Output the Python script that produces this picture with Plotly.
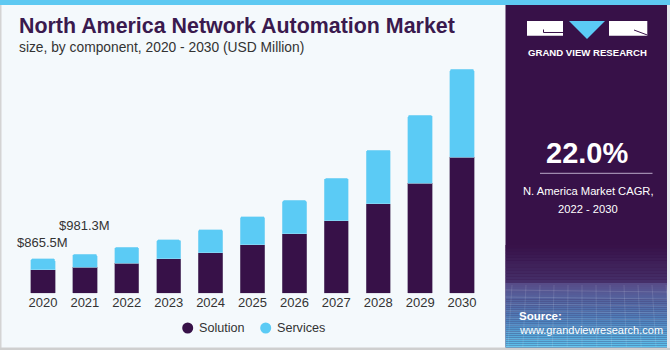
import plotly.graph_objects as go

# ---- data ----
years = ["2020", "2021", "2022", "2023", "2024", "2025", "2026", "2027", "2028", "2029", "2030"]
solution = [592, 655, 761, 862, 1021, 1222, 1499, 1827, 2255, 2777, 3432]
services = [273.5, 326.3, 396, 479, 580, 706, 842, 1068, 1353, 1706, 2210]
series_names = ["Solution", "Services"]
label_years = ["2020", "2021"]
label_texts = ["$865.5M", "$981.3M"]

W, H = 670, 350
PURPLE = "#371148"
BLUE = "#5bcbf5"
BG = "#f4f9fc"
FONT = "Liberation Sans, Arial, sans-serif"
LABEL_SHIFTS = [7, 19]


def px(x):
    return x / W


def py(y):
    return 1 - y / H


fig = go.Figure()
fig.add_trace(go.Bar(x=years, y=solution, name=series_names[0],
                     marker=dict(color=PURPLE, line=dict(color="#7a6a8a", width=0.6)),
                     width=0.58, showlegend=False))
fig.add_trace(go.Bar(x=years, y=services, name=series_names[1],
                     marker=dict(color=BLUE, line=dict(color="#9adcf5", width=0.6)),
                     width=0.58, showlegend=False))

totals = {y: s + v for y, s, v in zip(years, solution, services)}
annotations = []
for (yr, txt), shift in zip(zip(label_years, label_texts), LABEL_SHIFTS):
    annotations.append(dict(x=years.index(yr), y=totals[yr], xref="x", yref="y", text=txt, showarrow=False,
                            yanchor="bottom", yshift=shift, font=dict(family=FONT, size=13, color="#333333")))

shapes = []
# left & bottom borders
shapes.append(dict(type="rect", xref="paper", yref="paper", x0=0, x1=px(1.5), y0=0, y1=1,
                   fillcolor="#d4d4d4", line_width=0, layer="below"))
shapes.append(dict(type="rect", xref="paper", yref="paper", x0=0, x1=1, y0=0, y1=py(347.5),
                   fillcolor="#cfcfcf", line_width=0, layer="below"))
# right panel
shapes.append(dict(type="rect", xref="paper", yref="paper", x0=px(505.5), x1=px(667), y0=py(347.5), y1=py(5),
                   fillcolor=PURPLE, line_width=0, layer="below"))
shapes.append(dict(type="rect", xref="paper", yref="paper", x0=px(667), x1=1, y0=py(347.5), y1=py(5),
                   fillcolor="#e4e8ee", line_width=0, layer="below"))


def lerp(c1, c2, t):
    a = [int(c1[i:i + 2], 16) for i in (1, 3, 5)]
    b = [int(c2[i:i + 2], 16) for i in (1, 3, 5)]
    return "#%02x%02x%02x" % tuple(round(a[k] + (b[k] - a[k]) * t) for k in range(3))


# gradient in source area
n1 = 12
for i in range(n1):
    y0 = 245 + i * (283 - 245) / n1
    y1 = 245 + (i + 1) * (283 - 245) / n1
    shapes.append(dict(type="rect", xref="paper", yref="paper", x0=px(505.5), x1=px(667), y0=py(y1), y1=py(y0),
                       fillcolor=lerp(PURPLE, "#46306a", (i + 0.5) / n1), line_width=0, layer="below"))
n2 = 32
for i in range(n2):
    y0 = 283 + i * (347.5 - 283) / n2
    y1 = 283 + (i + 1) * (347.5 - 283) / n2
    t = (i + 0.5) / n2
    c = lerp("#574a86", "#4f86c0", t / 0.6) if t < 0.6 else lerp("#4f86c0", "#5cc4ee", (t - 0.6) / 0.4)
    shapes.append(dict(type="rect", xref="paper", yref="paper", x0=px(505.5), x1=px(667), y0=py(y1), y1=py(y0),
                       fillcolor=c, line_width=0, layer="below"))
# faint grid lines in the source area
for k in range(9):
    yy = 290 + k * 7
    shapes.append(dict(type="line", xref="paper", yref="paper", x0=px(505.5), x1=px(667), y0=py(yy), y1=py(yy + 2),
                       line=dict(color="rgba(255,255,255,0.13)", width=1), layer="below"))
for k in range(12):
    xx = 512 + k * 14
    shapes.append(dict(type="line", xref="paper", yref="paper", x0=px(xx), x1=px(xx - 4 + k * 0.8), y0=py(285), y1=py(347),
                       line=dict(color="rgba(255,255,255,0.11)", width=1), layer="below"))

# top stripe
shapes.append(dict(type="rect", xref="paper", yref="paper", x0=0, x1=1, y0=py(5), y1=1,
                   fillcolor="#5ec9f2", line_width=0, layer="below"))

# logo
shapes.append(dict(type="rect", xref="paper", yref="paper", x0=px(527), x1=px(563), y0=py(35.7), y1=py(21),
                   fillcolor="white", line_width=0))
shapes.append(dict(type="rect", xref="paper", yref="paper", x0=px(609), x1=px(647.3), y0=py(35.7), y1=py(21),
                   fillcolor="white", line_width=0))
shapes.append(dict(type="path", xref="paper", yref="paper",
                   path="M %f %f L %f %f L %f %f Z" % (px(569), py(21), px(605), py(21), px(587), py(39)),
                   fillcolor=BLUE, line_width=0))
shapes.append(dict(type="path", xref="paper", yref="paper",
                   path="M %f %f L %f %f L %f %f" % (px(543.5), py(29.5), px(543.5), py(32.5), px(563), py(32.5)),
                   line=dict(color=PURPLE, width=1)))
shapes.append(dict(type="line", xref="paper", yref="paper", x0=px(634), y0=py(30), x1=px(647.3), y1=py(35),
                   line=dict(color=PURPLE, width=1)))
# separator line in CAGR box
shapes.append(dict(type="line", xref="paper", yref="paper", x0=px(540), x1=px(652.5), y0=py(173.3), y1=py(173.3),
                   line=dict(color="#b9a9c9", width=1)))


def ann(x, y, text, size, color, xanchor="left", bold=False):
    annotations.append(dict(x=px(x), y=py(y), xref="paper", yref="paper", text=("<b>%s</b>" % text) if bold else text,
                            showarrow=False, xanchor=xanchor, yanchor="middle",
                            font=dict(family=FONT, size=size, color=color)))


# legend (drawn manually: round dots)
for (cx, tx), name, col in zip([(187.7, 197), (265.7, 275)], series_names, [PURPLE, BLUE]):
    shapes.append(dict(type="circle", xref="paper", yref="paper", x0=px(cx - 5.5), x1=px(cx + 5.5),
                       y0=py(328 + 5.5), y1=py(328 - 5.5), fillcolor=col, line_width=0))
    ann(tx, 327.5, name, 12.6, "#333333")

ann(17, 26, "North America Network Automation Market", 21.4, "#3a1a4e", bold=True)
ann(17, 48, "size, by component, 2020 - 2030 (USD Million)", 13.8, "#333333")
ann(587, 52, "GRAND VIEW RESEARCH", 9.6, "white", xanchor="center", bold=True)
ann(587, 153, "22.0%", 29, "white", xanchor="center", bold=True)
ann(588, 191, "N. America Market CAGR,", 11.2, "white", xanchor="center")
ann(588, 209, "2022 - 2030", 11.2, "white", xanchor="center")
ann(517, 316, "Source:", 11.5, "white", bold=True)
ann(517, 330, "www.grandviewresearch.com", 11, "white")

fig.update_layout(
    width=W, height=H,
    margin=dict(l=0, r=0, t=0, b=0, autoexpand=False),
    paper_bgcolor=BG, plot_bgcolor="rgba(0,0,0,0)",
    barmode="stack", bargap=0.42, barcornerradius=2,
    showlegend=False,
    xaxis=dict(type="category", categoryorder="array", categoryarray=years, range=[-0.5, len(years) - 0.5],
               domain=[px(22), px(483)], showgrid=False, zeroline=False, showline=False, ticks="",
               tickfont=dict(family=FONT, size=13, color="#333333"), fixedrange=True, anchor="y", automargin=False),
    yaxis=dict(domain=[py(293.2), py(60)], range=[0, 233.2 * 25.2], visible=False, fixedrange=True, anchor="x",
               automargin=False),
    shapes=shapes,
    annotations=annotations,
)

fig.write_html("out.html")
